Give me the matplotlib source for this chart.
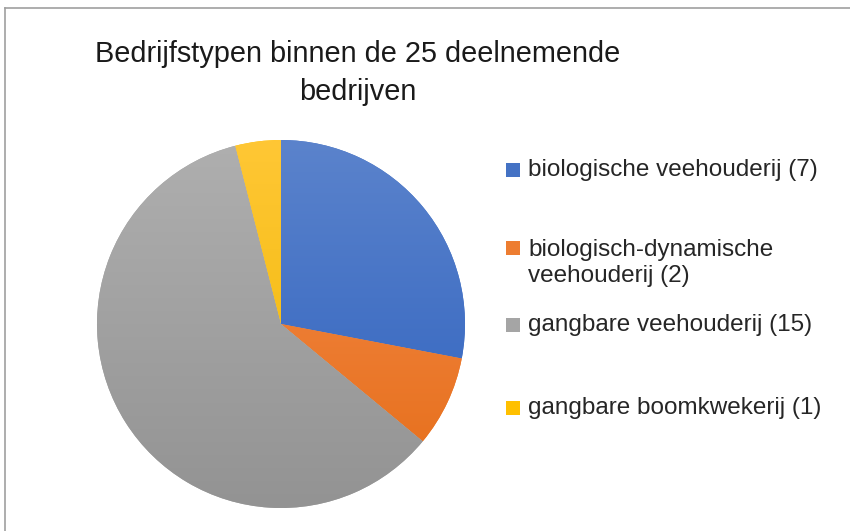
import numpy as np
import matplotlib.pyplot as plt
from matplotlib.colors import LinearSegmentedColormap
from matplotlib.patches import Rectangle
from matplotlib.lines import Line2D

plt.rcParams['font.family'] = ['Liberation Sans', 'DejaVu Sans']

title = "Bedrijfstypen binnen de 25 deelnemende\nbedrijven"
labels = ["biologische veehouderij (7)",
          "biologisch-dynamische\nveehouderij (2)",
          "gangbare veehouderij (15)",
          "gangbare boomkwekerij (1)"]
counts = [7, 2, 15, 1]
# top / bottom colours of the soft vertical gradient
top_colors = ["#5b83cc", "#f58c4e", "#afafaf", "#ffc735"]
bottom_colors = ["#2c60be", "#e56d17", "#939393", "#eeb600"]
base_colors = ["#4472c4", "#ed7d31", "#a5a5a5", "#ffc000"]

fig = plt.figure(figsize=(8.5, 5.31), dpi=100)
W, H = 850, 531

# chart frame (cropped: only top and left edges visible)
fig.add_artist(Line2D([5 / W, 5 / W], [0, 1 - 8 / H], color="#a0a0a0", lw=1.2))
fig.add_artist(Line2D([5 / W, 1], [1 - 8 / H, 1 - 8 / H], color="#a0a0a0", lw=1.2))

cx, cy, r = 281, 324, 184
ax = fig.add_axes([(cx - r) / W, (H - cy - r) / H, 2 * r / W, 2 * r / H])
wedges, _ = ax.pie(counts, colors=base_colors, startangle=90, counterclock=False,
                   radius=1, wedgeprops=dict(linewidth=0))

grad = np.linspace(0, 1, 256).reshape(-1, 1)
for w, c0, c1 in zip(wedges, top_colors, bottom_colors):
    cmap = LinearSegmentedColormap.from_list("g", [c0, c1])
    im = ax.imshow(grad, cmap=cmap, extent=(-1, 1, -1, 1), origin="upper",
                   aspect="auto", interpolation="bilinear", zorder=3)
    im.set_clip_path(w)
ax.set_xlim(-1, 1)
ax.set_ylim(-1, 1)
ax.set_aspect("equal")
ax.axis("off")

fig.text(358 / W, 1 - 73 / H, title, ha="center", va="center",
         fontsize=20.8, color="#1a1a1a", linespacing=1.45)

# legend
leg_y = [170, 263, 325, 408]
for lab, col, y in zip(labels, base_colors, leg_y):
    nlines = lab.count("\n") + 1
    sy = y - (nlines - 1) * 15
    fig.add_artist(Rectangle((506 / W, 1 - (sy + 7) / H), 14 / W, 14 / H,
                             facecolor=col, edgecolor="none"))
    fig.text(528 / W, 1 - y / H, lab, ha="left", va="center", fontsize=17.5,
             color="#262626", linespacing=1.22)

fig.savefig("out.png", dpi=100, facecolor="white")
